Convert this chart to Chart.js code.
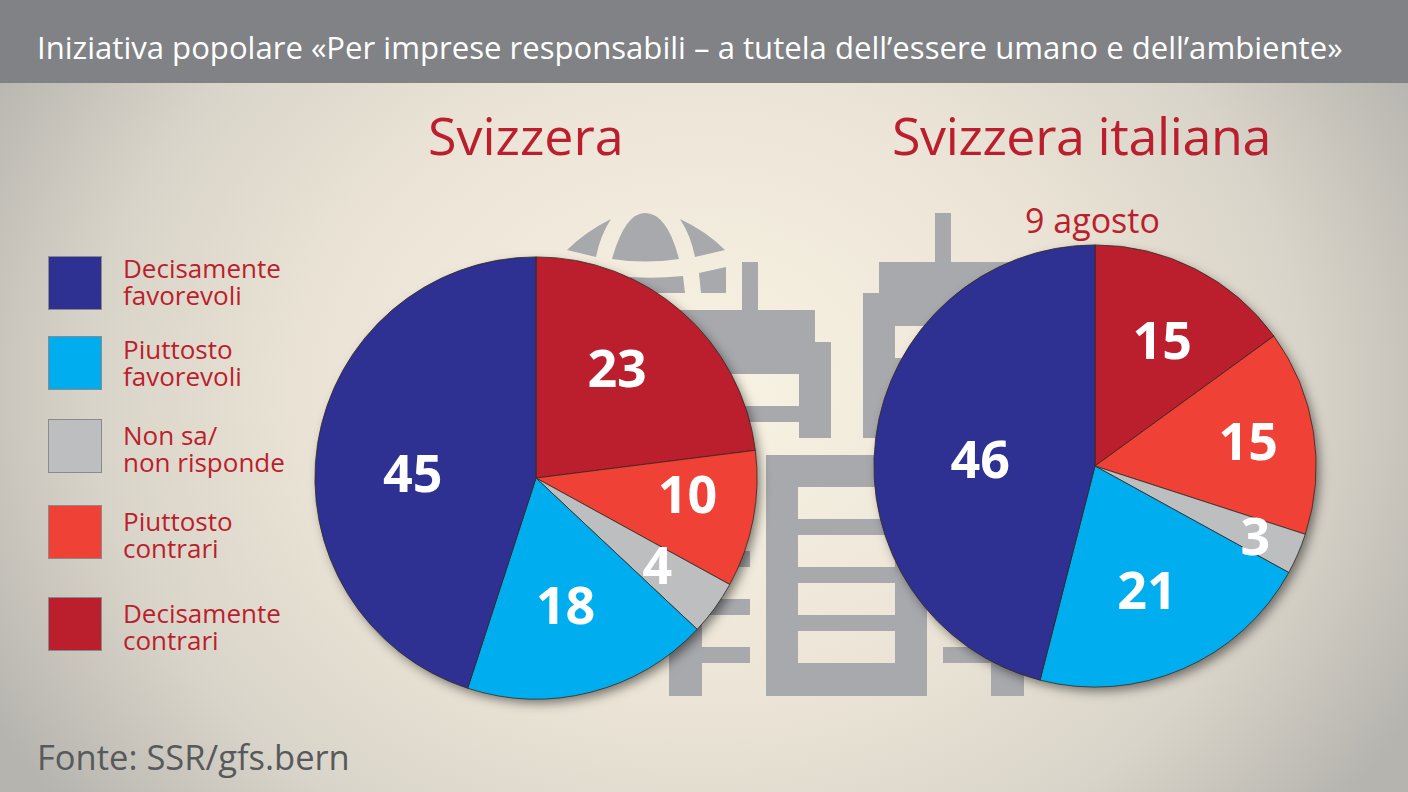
<!DOCTYPE HTML>
<html>
<head>
<meta charset="utf-8" />
<title>Iniziativa popolare</title>
<script src="https://cdn.jsdelivr.net/npm/chart.js@4"></script>
<style>
	html, body { margin: 0; padding: 0; }
	#page { position: relative; width: 1408px; height: 792px; overflow: hidden; font-family: "Open Sans", sans-serif;
		background: radial-gradient(ellipse 810px 680px at 700px 390px, #f9f3e4 0%, #ece5d7 45%, #d9d4c9 75%, #b6b4af 100%); }
	#header { position: absolute; left: 0; top: 0; width: 1408px; height: 83px; background: #808285; }
	#title { position: absolute; left: 37px; top: 26px; color: #fff; font-size: 31.1px; line-height: 42px; white-space: nowrap; }
	.region { position: absolute; color: #bb1e2d; font-size: 52px; line-height: 60px; white-space: nowrap; }
	#date { position: absolute; left: 1025px; top: 199px; color: #bb1e2d; font-size: 34px; line-height: 42px; white-space: nowrap; }
	#decor { position: absolute; left: 0; top: 0; }
	canvas { position: absolute; }
	.swatch { position: absolute; left: 48px; width: 52px; height: 52px; border: 1px solid #8a8a8a; }
	.leg { position: absolute; left: 123px; color: #bb1e2d; font-size: 26px; line-height: 27px; white-space: nowrap; }
	#source { position: absolute; left: 37px; top: 733px; color: #58595b; font-size: 34.5px; line-height: 48px; white-space: nowrap; }
</style>
</head>
<body>
<div id="page">
	<div id="header"></div>
	<div id="title">Iniziativa popolare «Per imprese responsabili – a tutela dell’essere umano e dell’ambiente»</div>

	<!-- backdrop icon, globe and buildings -->
	<svg id="decor" width="1408" height="792" fill="#a7a9ac">
		<path d="M567 250Q585 232 611 219Q600 236 596 257Z" />
		<path d="M612 259Q625 213 645 213Q667 213 679 259Q645 264 612 259Z" />
		<path d="M680 219Q706 231 725 250L695 257Q691 236 680 219Z" />
		<path d="M699 273L726 267V293H701Z" />
		<path d="M630 277Q655 279 683 276L685 293H630Z" />
		<path d="M620 310H742V262H758V310H815V342H831V438H799V422H720V406H799V374H720V438H620Z" />
		<path d="M863 438V293H879V262H935V213H951V262H1010V438H895V358H927V326H895V438Z" />
		<path d="M766 455H927V696H766ZM798 487V519H895V487ZM798 535V567H895V535ZM798 583V615H895V583ZM798 631V663H895V631Z" fill-rule="evenodd" />
		<path d="M669 696V500H702V551H750V567H702V599H750V615H702V647H750V663H702V696Z" />
		<path d="M1024 696V600H991V647H943V663H991V696Z" />
	</svg>

	<div class="region" style="left:428px;top:105px">Svizzera</div>
	<div class="region" style="left:892px;top:105px;letter-spacing:-0.4px">Svizzera italiana</div>
	<div id="date">9 agosto</div>

	<canvas id="PieSvizzera" width="500" height="500" style="left:286px;top:228px;width:500px;height:500px"></canvas>
	<canvas id="PieItaliana" width="500" height="500" style="left:845px;top:216px;width:500px;height:500px"></canvas>

	<div id="legend"></div>
	<div id="source">Fonte: SSR/gfs.bern</div>
</div>

<script>
	// clockwise from 12 o'clock, so the reverse of the legend
	const categories = ['Decisamente contrari', 'Piuttosto contrari', 'Non sa / non risponde', 'Piuttosto favorevoli', 'Decisamente favorevoli'];
	const valuesSvizzera = [23, 10, 4, 18, 45];
	const valuesItaliana = [15, 15, 3, 21, 46];
	const colors = ['#bb1e2d', '#ef4136', '#bcbec0', '#00aeef', '#2e3192'];

	const legendLines = [
		['Decisamente', 'favorevoli'],
		['Piuttosto', 'favorevoli'],
		['Non sa/', 'non risponde'],
		['Piuttosto', 'contrari'],
		['Decisamente', 'contrari']
	];
	const legendColors = ['#2e3192', '#00aeef', '#bcbec0', '#ef4136', '#bb1e2d'];
	const swatchTops = [256, 336, 419, 505, 597];
	const textTops = [255, 336, 422, 508, 600];

	// numbers were placed by hand in the original, nudge them off the slice centre
	const nudgeSvizzera = [[8, -23], [43, -1], [32, 26], [2, 24], [-14, 16]];
	const nudgeItaliana = [[17, -23], [44, -4], [59, 30], [8, 27], [-5, 11]];

	legendLines.forEach(function(lines, i) {
		const box = document.createElement('div');
		box.className = 'swatch';
		box.style.top = swatchTops[i] + 'px';
		box.style.background = legendColors[i];
		const txt = document.createElement('div');
		txt.className = 'leg';
		txt.style.top = textTops[i] + 'px';
		txt.innerHTML = lines.join('<br>');
		document.getElementById('legend').append(box, txt);
	});

	// soft drop shadow under the whole disc
	const discShadow = {
		id: 'discShadow',
		beforeDatasetsDraw(chart) {
			const arc = chart.getDatasetMeta(0).data[0];
			const ctx = chart.ctx;
			ctx.save();
			ctx.shadowColor = 'rgba(0,0,0,0.5)';
			ctx.shadowBlur = 11;
			ctx.shadowOffsetX = 4;
			ctx.shadowOffsetY = 5;
			ctx.fillStyle = '#555';
			ctx.beginPath();
			ctx.arc(arc.x, arc.y, arc.outerRadius - 1, 0, Math.PI * 2);
			ctx.fill();
			ctx.restore();
		}
	};

	// white numbers on the slices
	const sliceNumbers = {
		id: 'sliceNumbers',
		afterDatasetsDraw(chart, args, opts) {
			const ctx = chart.ctx;
			const values = chart.data.datasets[0].data;
			ctx.save();
			ctx.fillStyle = '#fff';
			ctx.font = 'bold 52px "Open Sans"';
			ctx.textAlign = 'center';
			ctx.textBaseline = 'middle';
			chart.getDatasetMeta(0).data.forEach(function(arc, i) {
				const p = arc.getCenterPoint();
				ctx.fillText(values[i], p.x + opts.nudge[i][0], p.y + opts.nudge[i][1]);
			});
			ctx.restore();
		}
	};

	function CreatePie(canvasId, values, nudge) {
		return new Chart(document.getElementById(canvasId).getContext('2d'), {
			type: 'pie',
			data: {
				labels: categories,
				datasets: [{
					data: values,
					backgroundColor: colors,
					borderColor: '#33291f',
					borderWidth: 0.8
				}]
			},
			options: {
				responsive: false,
				animation: false,
				layout: { padding: 28.5 },
				plugins: {
					legend: { display: false },
					tooltip: { enabled: false },
					sliceNumbers: { nudge: nudge }
				}
			},
			plugins: [discShadow, sliceNumbers]
		});
	}

	CreatePie('PieSvizzera', valuesSvizzera, nudgeSvizzera);
	CreatePie('PieItaliana', valuesItaliana, nudgeItaliana);
</script>
</body>
</html>
